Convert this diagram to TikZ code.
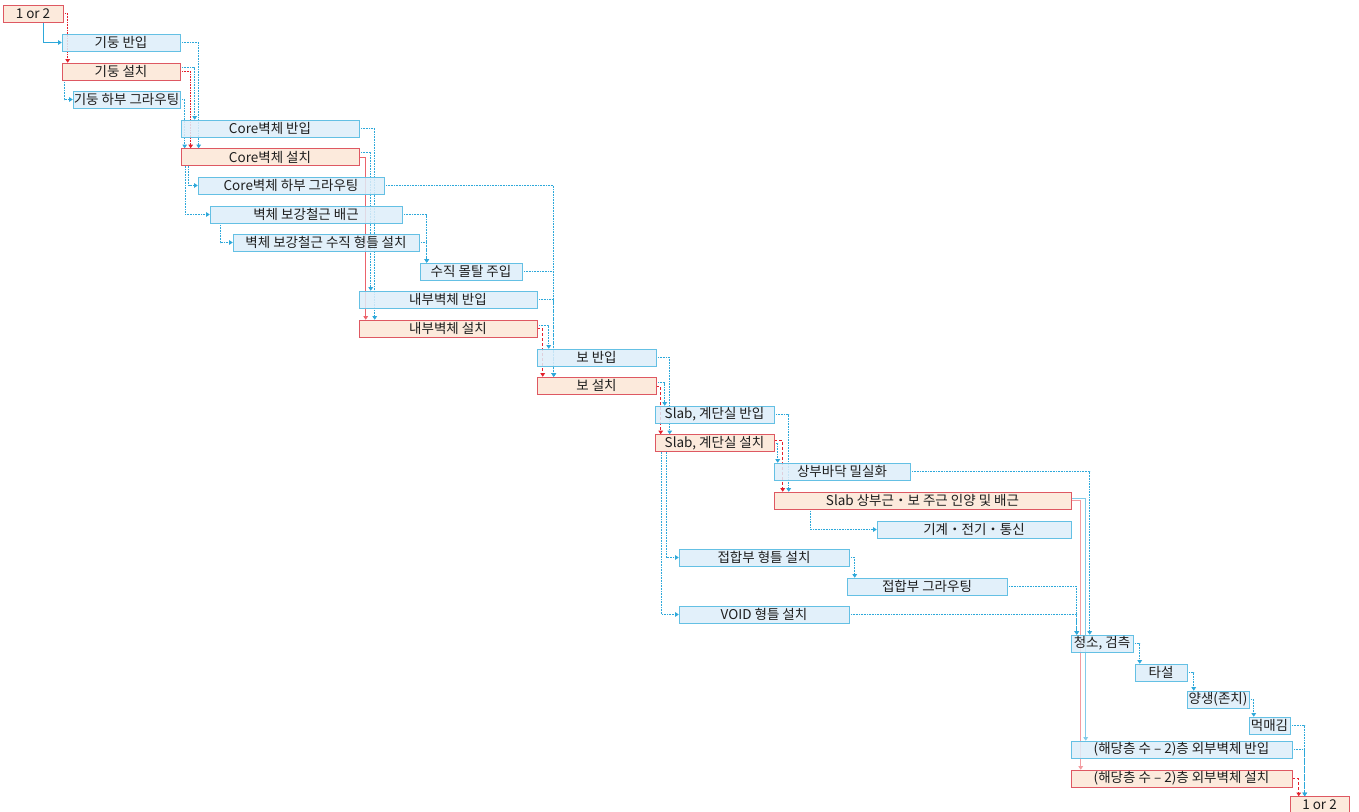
\documentclass[tikz,border=0pt]{standalone}
\usepackage{fontspec}
\setmainfont{Noto Sans CJK KR}
\usepackage{xcolor}
\usepackage{tikz}
\usetikzlibrary{calc, positioning, arrows.meta}
\pgfdeclarelayer{bg}
\pgfsetlayers{bg,main}

\definecolor{taskblue}{RGB}{222,238,250}
\definecolor{taskblueline}{RGB}{100,192,228}
\definecolor{taskorange}{RGB}{252,231,214}
\definecolor{taskredline}{RGB}{222,88,98}
\definecolor{linkblue}{RGB}{45,168,218}
\definecolor{linkred}{RGB}{228,32,44}
\definecolor{tasktext}{RGB}{30,30,30}

\begin{document}
\begin{tikzpicture}
              [x=1pt, y=-1pt,
               task/.style={minimum height=17pt, inner xsep=0pt, inner ysep=0pt, line width=0.6pt,
                 text=tasktext, font=\fontsize{13.5}{15}\selectfont, fill opacity=0.85, text opacity=1},
               blue task/.style={task, draw=taskblueline, fill=taskblue},
               red task/.style={task, draw=taskredline, fill=taskorange},
               blue link/.style={draw=linkblue, densely dotted, line width=0.6pt, -{Triangle[width=4.5pt,length=3.5pt]}},
               red link/.style={draw=linkred, densely dashed, line width=0.6pt, -{Triangle[width=4.5pt,length=3.5pt]}}]
              \useasboundingbox (0,0) rectangle (1359,811);

              % nodes %
              \node[red task, minimum width=60pt] (topStart) at (33,13.5) {1 or 2};
              \node[blue task, minimum width=118pt] (colIn) at (121,42.5) {기둥 반입};
              \node[red task, minimum width=118pt] (colSet) at (121,71.5) {기둥 설치};
              \node[blue task, minimum width=107pt] (colGrout) at (126.5,99.5) {기둥 하부 그라우팅};
              \node[blue task, minimum width=178pt] (coreIn) at (270,128.5) {Core벽체 반입};
              \node[red task, minimum width=178pt] (coreSet) at (270,157) {Core벽체 설치};
              \node[blue task, minimum width=186pt] (coreGrout) at (291,185.5) {Core벽체 하부 그라우팅};
              \node[blue task, minimum width=192pt] (rebar) at (306,214.5) {벽체 보강철근 배근};
              \node[blue task, minimum width=186pt] (rebarForm) at (326,242.5) {벽체 보강철근 수직 형틀 설치};
              \node[blue task, minimum width=102pt] (mortar) at (471,271.5) {수직 몰탈 주입};
              \node[blue task, minimum width=178pt] (inWallIn) at (448,299.5) {내부벽체 반입};
              \node[red task, minimum width=178pt] (inWallSet) at (448,328.5) {내부벽체 설치};
              \node[blue task, minimum width=119pt] (beamIn) at (596.5,357.5) {보 반입};
              \node[red task, minimum width=119pt] (beamSet) at (596.5,385.5) {보 설치};
              \node[blue task, minimum width=119pt] (slabIn) at (714.5,414.5) {Slab, 계단실 반입};
              \node[red task, minimum width=119pt] (slabSet) at (714.5,443) {Slab, 계단실 설치};
              \node[blue task, minimum width=136pt] (topFloor) at (842,471.5) {상부바닥 밀실화};
              \node[red task, minimum width=297pt] (slabRebar) at (922.5,500.5) {Slab 상부근・보 주근 인양 및 배근};
              \node[blue task, minimum width=194pt] (mep) at (974,529.5) {기계・전기・통신};
              \node[blue task, minimum width=170pt] (jointForm) at (764,557.5) {접합부 형틀 설치};
              \node[blue task, minimum width=160pt] (jointGrout) at (927,586.5) {접합부 그라우팅};
              \node[blue task, minimum width=170pt] (voidForm) at (764,614.5) {VOID 형틀 설치};
              \node[blue task, minimum width=62pt] (inspect) at (1102,643.5) {청소, 검측};
              \node[blue task, minimum width=52pt] (pour) at (1161,672.5) {타설};
              \node[blue task, minimum width=62pt] (cure) at (1218,699.5) {양생(존치)};
              \node[blue task, minimum width=41pt] (mark) at (1269.5,725.5) {먹매김};
              \node[blue task, minimum width=221pt] (exWallIn) at (1181.5,749.5) {(해당층 수 – 2)층 외부벽체 반입};
              \node[red task, minimum width=221pt] (exWallSet) at (1181.5,778.5) {(해당층 수 – 2)층 외부벽체 설치};
              \node[red task, minimum width=59pt] (endStart) at (1319.5,805) {1 or 2};

              % edges %
              \begin{pgfonlayer}{bg}
              \fill[white] (0,0) rectangle (1359,811);
              \draw[blue link, solid] ([xshift=41pt]topStart.south west) |- (colIn.west);
              \draw[red link, densely dotted] (topStart.east) -| ([xshift=6pt]colSet.north west);
              \draw[blue link] (colIn.east) -| ([xshift=18pt]coreSet.north west);
              \draw[blue link] ([yshift=4pt]colSet.east) -| ([xshift=14pt]coreIn.north west);
              \draw[red link, densely dotted] (colSet.east) -| ([xshift=10pt]coreSet.north west);
              \draw[blue link] ([xshift=3pt]colSet.south west) |- (colGrout.west);
              \draw[blue link] (colGrout.east) -| ([xshift=4pt]coreSet.north west);

              \draw[blue link] (coreIn.east) -| ([xshift=16pt]inWallSet.north west);
              \draw[blue link] ([yshift=5pt]coreSet.east) -| ([xshift=12pt]inWallIn.north west);
              \draw[red link, solid, draw=linkred!70] (coreSet.east) -| ([xshift=7pt]inWallSet.north west);
              \draw[blue link] ([xshift=8pt]coreSet.south west) |- (coreGrout.west);
              \draw[blue link] ([xshift=5pt]coreSet.south west) |- (rebar.west);
              \draw[blue link] ([xshift=11pt]rebar.south west) |- (rebarForm.west);
              \draw[blue link] (rebar.east) -| ([xshift=7pt]mortar.north west);
              \draw[blue link] (rebarForm.east) -| ([xshift=7pt]mortar.north west);
              \draw[blue link] (coreGrout.east) -| ([xshift=17pt]beamSet.north west);
              \draw[blue link] (mortar.east) -| ([xshift=17pt]beamSet.north west);
              \draw[blue link] (inWallIn.east) -| ([xshift=17pt]beamSet.north west);

              \draw[blue link] ([yshift=3pt]inWallSet.east) -| ([xshift=12pt]beamIn.north west);
              \draw[red link] (inWallSet.east) -| ([xshift=6pt]beamSet.north west);
              \draw[blue link] (beamIn.east) -| ([xshift=15pt]slabSet.north west);
              \draw[blue link] ([yshift=3pt]beamSet.east) -| ([xshift=10pt]slabIn.north west);
              \draw[red link] ([yshift=-1pt]beamSet.east) -| ([xshift=6pt]slabSet.north west);

              \draw[blue link] (slabIn.east) -| ([xshift=15pt]slabRebar.north west);
              \draw[blue link] (slabSet.east) -| ([xshift=4pt]topFloor.north west);
              \draw[red link] ([yshift=3pt]slabSet.east) -| ([xshift=9pt]slabRebar.north west);
              \draw[blue link] ([xshift=12pt]slabSet.south west) |- (jointForm.west);
              \draw[blue link] ([xshift=7pt]slabSet.south west) |- (voidForm.west);
              \draw[blue link] ([xshift=37pt]slabRebar.south west) |- (mep.west);
              \draw[blue link] (jointForm.east) -| ([xshift=8pt]jointGrout.north west);

              \draw[blue link] (topFloor.east) -| ([xshift=19pt]inspect.north west);
              \draw[blue link] (jointGrout.east) -| ([xshift=6pt]inspect.north west);
              \draw[blue link] (voidForm.east) -| ([xshift=6pt]inspect.north west);
              \draw[blue link, solid, draw=linkblue!60] ([yshift=2.5pt]slabRebar.east) -| ([xshift=15pt]exWallIn.north west);
              \draw[red link, solid, draw=linkred!45] (slabRebar.east) -| ([xshift=10pt]exWallSet.north west);
              \draw[blue link] (inspect.east) -| ([xshift=5pt]pour.north west);
              \draw[blue link] (pour.east) -| ([xshift=7pt]cure.north west);
              \draw[blue link] (cure.east) -| ([xshift=5pt]mark.north west);
              \draw[blue link] (mark.east) -| ([xshift=15pt]endStart.north west);
              \draw[blue link] (exWallIn.east) -| ([xshift=15pt]endStart.north west);
              \draw[red link] (exWallSet.east) -| ([xshift=9pt]endStart.north west);
              \end{pgfonlayer}
            \end{tikzpicture}
\end{document}
